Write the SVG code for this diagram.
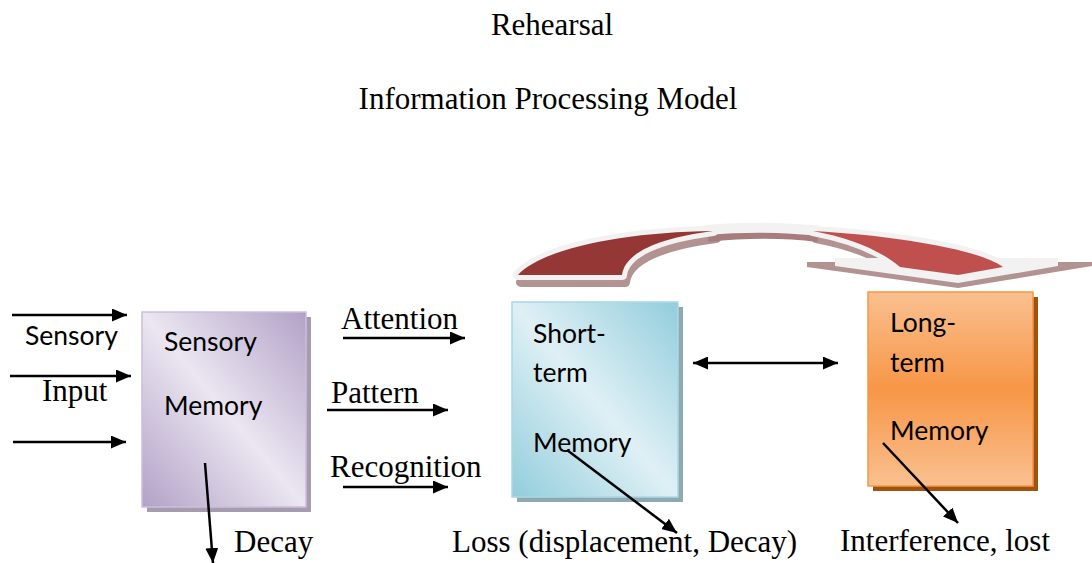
<svg xmlns="http://www.w3.org/2000/svg" width="1092" height="563" viewBox="0 0 1092 563">
<defs>
<style>
.serif{font-family:"Liberation Serif","Times New Roman",serif;font-size:31px;fill:#000}
.sans{font-family:Lato,"Open Sans",sans-serif;font-size:26.5px;fill:#000}
.conn{stroke:#000;stroke-width:2.5;fill:none}
</style>
<marker id="ah" viewBox="0 0 15 13" refX="15" refY="6.5" markerWidth="15" markerHeight="13" markerUnits="userSpaceOnUse" orient="auto-start-reverse">
<path d="M0,0 L15,6.5 L0,13 z" fill="#000"/>
</marker>
<linearGradient id="gS" x1="0" y1="1" x2="1" y2="0">
<stop offset="0" stop-color="#b2a1c7"/>
<stop offset="0.5" stop-color="#ebe6f1"/>
<stop offset="1" stop-color="#b2a1c7"/>
</linearGradient>
<linearGradient id="gT" x1="0" y1="1" x2="1" y2="0">
<stop offset="0" stop-color="#92cddc"/>
<stop offset="0.5" stop-color="#dff0f5"/>
<stop offset="1" stop-color="#92cddc"/>
</linearGradient>
<linearGradient id="gL" x1="0" y1="0" x2="0" y2="1">
<stop offset="0" stop-color="#fac090"/>
<stop offset="0.5" stop-color="#f79646"/>
<stop offset="1" stop-color="#fac090"/>
</linearGradient>
</defs>
<rect width="1092" height="563" fill="#fff"/>

<g id="titles">
<text class="serif" x="552" y="35" text-anchor="middle">Rehearsal</text>
<text class="serif" x="548" y="109" text-anchor="middle">Information Processing Model</text>
</g>

<g id="rehearsal-arrow">
<g transform="translate(3,7)" fill="#b39292" stroke="#b39292" stroke-width="10" stroke-linejoin="round">
<path d="M518,275 C540,250 620,232 713,231 C660,238 625,252 622,275 Z"/>
<path d="M813,231 C900,236 980,250 1003,267 L958,275 L900,267 C880,250 850,238 813,231 Z"/>
</g>
<path d="M708,238 C745,234 785,234 818,238" fill="none" stroke="#a87c7c" stroke-width="8"/>
<polygon points="807,262 1092,262 1092,266 958,288 807,267" fill="#b39292"/>
<g fill="#f2f2f2" stroke="#f2f2f2" stroke-width="10" stroke-linejoin="round">
<path d="M518,275 C540,250 620,232 713,231 C660,238 625,252 622,275 Z"/>
<path d="M813,231 C900,236 980,250 1003,267 L958,275 L900,267 C880,250 850,238 813,231 Z"/>
</g>
<path d="M705,230 C740,227 785,227 820,231" fill="none" stroke="#f2f2f2" stroke-width="10"/>
<polygon points="835,258 1058,258 1058,266 958,283 835,266" fill="#f2f2f2"/>
<path d="M518,275 C540,250 620,232 713,231 C660,238 625,252 622,275 Z" fill="#953735"/>
<path d="M813,231 C900,236 980,250 1003,267 L958,275 L900,267 C880,250 850,238 813,231 Z" fill="#c0504d"/>
</g>

<g id="sensory-memory">
<rect x="147" y="317" width="164" height="195" fill="#a59cb0"/>
<rect x="142" y="312" width="164" height="195" fill="url(#gS)" stroke="#cbbfdb" stroke-width="1.5"/>
<text class="sans" x="164" y="351">Sensory</text>
<text class="sans" x="164" y="415">Memory</text>
</g>

<g id="short-term-memory">
<rect x="517" y="307" width="166" height="195" fill="#8fa9b0"/>
<rect x="512" y="302" width="166" height="195" fill="url(#gT)" stroke="#a9d8e5" stroke-width="1.5"/>
<text class="sans" x="533" y="343">Short-</text>
<text class="sans" x="533" y="382">term</text>
<text class="sans" x="533" y="452">Memory</text>
</g>

<g id="long-term-memory">
<rect x="873" y="297" width="165" height="194" fill="#a0520f"/>
<rect x="868" y="292" width="165" height="194" fill="url(#gL)" stroke="#f79646" stroke-width="1.5"/>
<text class="sans" x="890" y="332">Long-</text>
<text class="sans" x="890" y="372">term</text>
<text class="sans" x="890" y="440">Memory</text>
</g>

<g id="labels">
<text class="sans" x="25" y="345">Sensory</text>
<text class="serif" x="42" y="401">Input</text>
<text class="serif" x="341" y="329">Attention</text>
<text class="serif" x="331" y="403">Pattern</text>
<text class="serif" x="330" y="477">Recognition</text>
<text class="serif" x="234" y="552">Decay</text>
<text class="serif" x="452" y="552">Loss (displacement, Decay)</text>
<text class="serif" x="840" y="551">Interference, lost</text>
</g>

<g id="connectors">
<line class="conn" x1="12" y1="315" x2="127" y2="315" marker-end="url(#ah)"/>
<line class="conn" x1="10" y1="376" x2="131" y2="376" marker-end="url(#ah)"/>
<line class="conn" x1="13" y1="442" x2="126" y2="442" marker-end="url(#ah)"/>
<line class="conn" x1="343" y1="338" x2="465" y2="338" marker-end="url(#ah)"/>
<line class="conn" x1="327" y1="410" x2="448" y2="410" marker-end="url(#ah)"/>
<line class="conn" x1="343" y1="487" x2="448" y2="487" marker-end="url(#ah)"/>
<line class="conn" x1="693" y1="363" x2="838" y2="363" marker-start="url(#ah)" marker-end="url(#ah)"/>
<line class="conn" x1="205" y1="463" x2="213" y2="563" marker-end="url(#ah)"/>
<line class="conn" x1="567" y1="450" x2="677" y2="533" marker-end="url(#ah)"/>
<line class="conn" x1="883" y1="443" x2="958" y2="523" marker-end="url(#ah)"/>
</g>
</svg>
